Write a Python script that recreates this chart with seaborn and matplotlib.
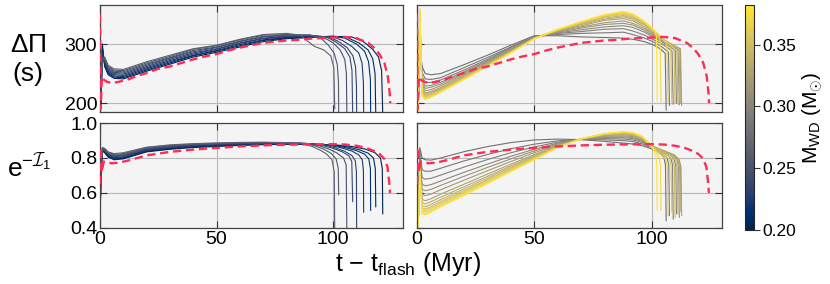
import pandas as pd
import seaborn as sns
import matplotlib.pyplot as plt
from matplotlib.colors import Normalize
from matplotlib.cm import ScalarMappable

# ----------------------
# DATA
# ----------------------
# left column: low-mass runs (navy -> grey), right column: higher-mass runs (grey -> yellow)
MASS_LEFT = [0.200, 0.208, 0.216, 0.224, 0.232, 0.240, 0.248, 0.256, 0.264]
MASS_RIGHT = [0.280, 0.288, 0.295, 0.303, 0.311, 0.318, 0.326,
              0.334, 0.342, 0.349, 0.357, 0.365, 0.372, 0.380]

T_LEFT = [0, 0.4, 1, 2, 3.5, 6, 10, 20, 30, 40, 50, 60, 70, 80]
T_RIGHT = [0, 0.5, 1.2, 2.2, 3.5, 6, 10, 20, 30, 40, 50, 60, 70, 80, 88]

# period spacing DeltaPi (s), left runs
DP_LEFT = [
    [330, 195, 300, 262, 248, 242, 241, 254, 266, 278, 286, 295, 304, 309],
    [335, 200, 295, 264, 250, 244, 243, 256, 268, 280, 288, 297, 306, 310],
    [340, 205, 290, 266, 252, 246, 245, 258, 270, 281, 289, 299, 307, 311],
    [345, 210, 285, 268, 254, 248, 247, 260, 272, 283, 291, 301, 309, 312],
    [350, 215, 280, 270, 256, 250, 249, 262, 274, 285, 292, 302, 310, 313],
    [352, 220, 278, 272, 258, 252, 251, 264, 276, 287, 294, 304, 312, 314],
    [355, 225, 276, 274, 260, 254, 253, 266, 277, 289, 295, 305, 313, 315],
    [358, 230, 274, 276, 262, 256, 255, 268, 279, 291, 297, 307, 315, 316],
    [360, 235, 272, 278, 264, 258, 257, 270, 281, 292, 298, 308, 316, 318],
]
DP_LEFT_TAIL = [
    [(90, 311), (100, 313), (108, 312), (113, 304), (117, 291), (119.5, 278), (120.8, 255), (121.3, 180)],
    [(90, 312), (100, 313), (106, 311), (111, 302), (115, 290), (117, 275), (118, 250), (118.3, 180)],
    [(90, 312), (100, 313), (105, 310), (110, 300), (113.5, 288), (115.2, 270), (116, 240), (116.1, 180)],
    [(90, 313), (100, 312), (104, 306), (108, 296), (111, 285), (112.4, 268), (113, 235), (113.1, 180)],
    [(90, 314), (98, 312), (102, 305), (106, 294), (108.5, 280), (109.6, 262), (110, 230), (110.1, 180)],
    [(90, 315), (97, 312), (101, 304), (105, 292), (107.2, 278), (108.1, 255), (108.4, 180)],
    [(90, 315), (96, 311), (100, 302), (103, 290), (105, 274), (105.7, 250), (105.9, 180)],
    [(90, 315), (95, 309), (98, 298), (100.5, 284), (101.8, 265), (102.3, 235), (102.4, 180)],
    [(86, 315), (89, 305), (92, 296), (96, 290), (99, 280), (100.3, 260), (100.7, 190)],
]

# mode trapping e^{-I1}, left runs
EI_LEFT = [
    [0.42, 0.70, 0.840, 0.830, 0.805, 0.790, 0.795, 0.835, 0.850, 0.860, 0.866, 0.872, 0.876, 0.878],
    [0.43, 0.71, 0.843, 0.833, 0.809, 0.794, 0.799, 0.838, 0.853, 0.863, 0.869, 0.874, 0.878, 0.879],
    [0.44, 0.72, 0.845, 0.836, 0.813, 0.798, 0.803, 0.842, 0.856, 0.866, 0.872, 0.877, 0.880, 0.880],
    [0.45, 0.73, 0.848, 0.839, 0.817, 0.802, 0.807, 0.845, 0.859, 0.869, 0.875, 0.879, 0.882, 0.881],
    [0.46, 0.74, 0.850, 0.842, 0.820, 0.807, 0.812, 0.849, 0.863, 0.872, 0.877, 0.882, 0.884, 0.882],
    [0.47, 0.75, 0.853, 0.845, 0.824, 0.811, 0.816, 0.852, 0.866, 0.875, 0.880, 0.884, 0.886, 0.884],
    [0.48, 0.76, 0.855, 0.848, 0.828, 0.815, 0.820, 0.855, 0.869, 0.877, 0.882, 0.886, 0.887, 0.885],
    [0.49, 0.77, 0.858, 0.852, 0.831, 0.820, 0.825, 0.859, 0.872, 0.880, 0.884, 0.888, 0.889, 0.887],
    [0.50, 0.78, 0.860, 0.855, 0.835, 0.825, 0.830, 0.862, 0.875, 0.882, 0.886, 0.889, 0.890, 0.888],
]
EI_LEFT_TAIL = [
    [(90, 0.878), (100, 0.876), (108, 0.866), (114, 0.850), (118, 0.830), (120.3, 0.800), (121.1, 0.740), (121.3, 0.48)],
    [(90, 0.879), (100, 0.875), (106, 0.864), (111, 0.848), (115, 0.828), (117.3, 0.800), (118.1, 0.740), (118.3, 0.52)],
    [(90, 0.880), (100, 0.873), (105, 0.860), (110, 0.842), (113.5, 0.822), (115.3, 0.795), (116, 0.740), (116.1, 0.50)],
    [(90, 0.881), (98, 0.874), (103, 0.860), (108, 0.840), (111, 0.818), (112.5, 0.790), (113, 0.730), (113.1, 0.49)],
    [(90, 0.882), (97, 0.872), (101, 0.858), (105, 0.838), (108, 0.815), (109.5, 0.785), (110, 0.720), (110.1, 0.38)],
    [(90, 0.882), (96, 0.870), (100, 0.855), (104, 0.835), (106.8, 0.812), (108, 0.780), (108.4, 0.55)],
    [(88, 0.884), (94, 0.870), (98, 0.852), (101.5, 0.830), (104.5, 0.800), (105.6, 0.760), (105.9, 0.38)],
    [(88, 0.884), (93, 0.866), (96, 0.850), (99, 0.828), (101.3, 0.795), (102.2, 0.740), (102.4, 0.59)],
    [(86, 0.886), (91, 0.866), (94, 0.848), (97, 0.825), (99.5, 0.790), (100.5, 0.720), (100.7, 0.38)],
]

# DeltaPi, right runs
DP_RIGHT = [
    [366, 186, 290, 262, 250, 248, 250, 265, 281, 298, 314, 314, 312, 311, 310],
    [366, 186, 305, 252, 241, 240, 243, 260, 277, 295, 313, 316, 318, 319, 320],
    [366, 186, 315, 245, 235, 235, 239, 256, 274, 294, 312, 318, 321, 325, 326],
    [366, 186, 323, 239, 229, 230, 235, 253, 272, 292, 312, 319, 324, 329, 331],
    [366, 186, 329, 234, 225, 227, 232, 251, 270, 291, 311, 320, 327, 333, 335],
    [366, 186, 336, 230, 221, 223, 229, 249, 269, 290, 311, 321, 329, 336, 339],
    [366, 186, 342, 225, 217, 220, 226, 247, 267, 288, 310, 322, 331, 340, 343],
    [366, 186, 346, 222, 215, 218, 224, 245, 266, 288, 310, 323, 333, 342, 346],
    [366, 186, 350, 220, 213, 216, 223, 244, 265, 287, 310, 323, 334, 344, 348],
    [366, 186, 352, 218, 211, 214, 222, 243, 264, 286, 310, 324, 335, 346, 350],
    [366, 186, 354, 216, 210, 213, 221, 242, 263, 286, 309, 324, 336, 347, 351],
    [366, 186, 357, 215, 208, 212, 220, 241, 263, 286, 309, 324, 337, 348, 353],
    [366, 186, 359, 213, 207, 211, 219, 240, 262, 285, 309, 325, 337, 349, 354],
    [366, 186, 360, 212, 206, 210, 218, 240, 262, 285, 309, 325, 338, 350, 355],
]
DP_RIGHT_TAIL = [
    [(92, 308), (97, 304), (101, 298), (104, 291), (105.8, 284), (106.2, 188)],
    [(92, 316), (97, 310), (101, 303), (104.5, 295), (107.2, 286), (107.6, 196)],
    [(92, 322), (97, 315), (101, 307), (105, 299), (108.7, 288), (109.2, 198)],
    [(92, 328), (97, 320), (101, 311), (106, 300), (110.1, 289), (110.6, 200)],
    [(92, 332), (97, 323), (101, 313), (106, 302), (111.3, 290), (111.8, 197)],
    [(92, 335), (97, 326), (101, 315), (107, 302), (112.1, 291), (112.6, 199)],
    [(92, 339), (97, 329), (101, 317), (107, 303), (112.3, 292), (112.8, 196)],
    [(92, 342), (97, 332), (101, 319), (106, 305), (111.7, 292), (112.2, 200)],
    [(92, 344), (97, 334), (101, 320), (105, 307), (110.7, 293), (111.2, 198)],
    [(92, 346), (97, 335), (101, 321), (105, 308), (109.5, 295), (110.0, 201)],
    [(92, 347), (97, 336), (101, 322), (105, 309), (108.1, 297), (108.6, 199)],
    [(92, 349), (97, 337), (100, 326), (104, 312), (106.5, 300), (107.0, 202)],
    [(92, 350), (96, 340), (100, 328), (102.5, 318), (103.6, 308), (104.0, 200)],
    [(92, 351), (96, 341), (99.5, 330), (101.5, 320), (102.1, 312), (102.4, 203)],
]

# e^{-I1}, right runs
EI_RIGHT = [
    [0.40, 0.40, 0.860, 0.800, 0.790, 0.788, 0.800, 0.836, 0.865, 0.888, 0.903, 0.908, 0.905, 0.895, 0.885],
    [0.40, 0.40, 0.830, 0.733, 0.724, 0.725, 0.741, 0.783, 0.820, 0.853, 0.879, 0.898, 0.906, 0.904, 0.899],
    [0.40, 0.40, 0.811, 0.688, 0.679, 0.684, 0.702, 0.748, 0.791, 0.830, 0.863, 0.891, 0.907, 0.911, 0.908],
    [0.40, 0.40, 0.794, 0.650, 0.641, 0.648, 0.668, 0.718, 0.765, 0.810, 0.850, 0.885, 0.907, 0.916, 0.916],
    [0.40, 0.40, 0.782, 0.621, 0.613, 0.621, 0.643, 0.695, 0.746, 0.795, 0.840, 0.881, 0.908, 0.920, 0.921],
    [0.40, 0.40, 0.769, 0.592, 0.585, 0.594, 0.618, 0.673, 0.727, 0.780, 0.830, 0.877, 0.908, 0.924, 0.927],
    [0.40, 0.40, 0.756, 0.563, 0.556, 0.567, 0.593, 0.650, 0.708, 0.765, 0.819, 0.872, 0.909, 0.928, 0.933],
    [0.40, 0.40, 0.748, 0.544, 0.537, 0.550, 0.576, 0.635, 0.695, 0.755, 0.813, 0.870, 0.909, 0.931, 0.937],
    [0.40, 0.40, 0.741, 0.528, 0.521, 0.535, 0.562, 0.623, 0.685, 0.747, 0.807, 0.867, 0.909, 0.933, 0.940],
    [0.40, 0.40, 0.735, 0.515, 0.509, 0.523, 0.551, 0.613, 0.676, 0.740, 0.802, 0.865, 0.909, 0.935, 0.943],
    [0.40, 0.40, 0.731, 0.506, 0.499, 0.514, 0.542, 0.605, 0.670, 0.735, 0.799, 0.864, 0.910, 0.936, 0.945],
    [0.40, 0.40, 0.727, 0.496, 0.490, 0.505, 0.534, 0.598, 0.664, 0.730, 0.796, 0.862, 0.910, 0.938, 0.947],
    [0.40, 0.40, 0.723, 0.486, 0.480, 0.496, 0.526, 0.590, 0.657, 0.725, 0.792, 0.861, 0.910, 0.939, 0.949],
    [0.40, 0.40, 0.720, 0.480, 0.474, 0.490, 0.520, 0.585, 0.653, 0.722, 0.790, 0.860, 0.910, 0.940, 0.950],
]
EI_RIGHT_TAIL = [
    [(92, 0.880), (96, 0.870), (100, 0.852), (103, 0.835), (105.2, 0.805), (105.9, 0.76), (106.2, 0.44)],
    [(92, 0.894), (96, 0.880), (100, 0.858), (104.6, 0.828), (106.6, 0.800), (107.3, 0.76), (107.6, 0.47)],
    [(92, 0.903), (96, 0.888), (100, 0.862), (106.2, 0.825), (108.2, 0.798), (108.9, 0.76), (109.2, 0.45)],
    [(92, 0.911), (96, 0.895), (100, 0.865), (107.6, 0.822), (109.6, 0.795), (110.3, 0.755), (110.6, 0.48)],
    [(92, 0.916), (96, 0.899), (100, 0.866), (108.8, 0.820), (110.8, 0.792), (111.5, 0.75), (111.8, 0.46)],
    [(92, 0.922), (96, 0.904), (100, 0.868), (109.6, 0.818), (111.6, 0.790), (112.3, 0.75), (112.6, 0.49)],
    [(92, 0.928), (96, 0.909), (100, 0.870), (109.8, 0.816), (111.8, 0.788), (112.5, 0.748), (112.8, 0.47)],
    [(92, 0.932), (96, 0.912), (100, 0.870), (109.2, 0.815), (111.2, 0.788), (111.9, 0.748), (112.2, 0.50)],
    [(92, 0.935), (96, 0.915), (100, 0.869), (108.2, 0.815), (110.2, 0.788), (110.9, 0.748), (111.2, 0.48)],
    [(92, 0.938), (96, 0.917), (100, 0.866), (107, 0.815), (109, 0.790), (109.7, 0.75), (110.0, 0.46)],
    [(92, 0.940), (96, 0.919), (100, 0.862), (105.6, 0.815), (107.6, 0.790), (108.3, 0.75), (108.6, 0.49)],
    [(92, 0.942), (96, 0.921), (100, 0.857), (104, 0.818), (106, 0.790), (106.7, 0.75), (107.0, 0.47)],
    [(92, 0.944), (96, 0.924), (99, 0.885), (101.5, 0.845), (103.2, 0.800), (103.8, 0.76), (104.0, 0.50)],
    [(92, 0.945), (95, 0.930), (98, 0.900), (100.5, 0.860), (101.8, 0.810), (102.2, 0.77), (102.4, 0.50)],
]

# reference model (red dashed), same in both columns
REF_T_DP = [0, 0.3, 0.8, 1.5, 3, 5, 8, 12, 16, 20, 25, 30, 35, 40, 45, 50, 55, 60, 65, 70,
            75, 80, 85, 90, 95, 100, 105, 110, 115, 118, 120, 122, 123.5, 124.3, 124.5]
REF_DP = [350, 190, 245, 240, 236, 234, 236, 240, 246, 251, 258, 262, 268, 274, 279, 283, 289, 294, 298, 302,
          304, 306, 307, 309, 310, 311, 312, 310, 302, 292, 282, 268, 245, 215, 200]
REF_T_EI = [0, 0.3, 0.8, 1.5, 3, 5, 8, 12, 20, 30, 40, 50, 60, 70, 80, 90, 100,
            105, 110, 114, 118, 120, 122, 123.3, 124, 124.4]
REF_EI = [0.65, 0.86, 0.72, 0.78, 0.775, 0.770, 0.773, 0.785, 0.815, 0.835, 0.848, 0.858, 0.866, 0.872, 0.876,
          0.878, 0.879, 0.877, 0.870, 0.858, 0.838, 0.822, 0.795, 0.750, 0.670, 0.600]

MASS_RANGE = (0.20, 0.382)
CBAR_TICKS = [0.20, 0.25, 0.30, 0.35]

# ----------------------
# STYLE
# ----------------------
sns.set_theme(style='ticks')
plt.rcParams['font.family'] = ['Liberation Sans', 'DejaVu Sans']
plt.rcParams['mathtext.fontset'] = 'custom'
plt.rcParams['mathtext.rm'] = 'Liberation Sans'
plt.rcParams['mathtext.it'] = 'Liberation Sans:italic'
plt.rcParams['mathtext.cal'] = 'cmsy10'
plt.rcParams['text.color'] = 'black'
plt.rcParams['axes.labelcolor'] = 'black'
RED = '#ff2d55'
NORM = Normalize(*MASS_RANGE)


def to_frame(masses, body_t, body, tails):
    parts = []
    for k, (m, vals, tail) in enumerate(zip(masses, body, tails)):
        ts = list(body_t) + [p[0] for p in tail]
        vs = list(vals) + [p[1] for p in tail]
        parts.append(pd.DataFrame({'t': ts, 'y': vs, 'mass': m, 'run': k}))
    return pd.concat(parts, ignore_index=True)


def draw_panel(ax, df, ref_t, ref_y):
    sns.lineplot(data=df, x='t', y='y', hue='mass', units='run', estimator=None,
                 palette='cividis', hue_norm=NORM, lw=0.8, legend=False, sort=False, ax=ax)
    sns.lineplot(x=ref_t, y=ref_y, color=RED, lw=1.7, linestyle=(0, (3.5, 2)),
                 sort=False, ax=ax, zorder=5)
    ax.set_facecolor('#f4f4f4')
    ax.grid(True, color='#b8b8b8', lw=0.8)
    ax.set_axisbelow(True)
    ax.set_xlim(0, 130)
    ax.set_xticks([0, 50, 100])
    ax.set_xlabel('')
    ax.set_ylabel('')
    ax.tick_params(direction='in', top=True, right=True, length=5, width=0.8,
                   color='#333333', labelcolor='black', labelsize=14, pad=2)
    for s in ax.spines.values():
        s.set_color('#444444')
        s.set_linewidth(0.9)


fig = plt.figure(figsize=(8.3, 2.84), dpi=100)
ax_tl = fig.add_axes([0.1205, 0.6056, 0.3651, 0.3768])
ax_tr = fig.add_axes([0.5024, 0.6056, 0.3675, 0.3768])
ax_bl = fig.add_axes([0.1205, 0.1972, 0.3651, 0.3697])
ax_br = fig.add_axes([0.5024, 0.1972, 0.3675, 0.3697])
cax = fig.add_axes([0.8976, 0.190, 0.0108, 0.7923])

draw_panel(ax_tl, to_frame(MASS_LEFT, T_LEFT, DP_LEFT, DP_LEFT_TAIL), REF_T_DP, REF_DP)
draw_panel(ax_tr, to_frame(MASS_RIGHT, T_RIGHT, DP_RIGHT, DP_RIGHT_TAIL), REF_T_DP, REF_DP)
draw_panel(ax_bl, to_frame(MASS_LEFT, T_LEFT, EI_LEFT, EI_LEFT_TAIL), REF_T_EI, REF_EI)
draw_panel(ax_br, to_frame(MASS_RIGHT, T_RIGHT, EI_RIGHT, EI_RIGHT_TAIL), REF_T_EI, REF_EI)

for ax in (ax_tl, ax_tr):
    ax.set_ylim(185, 366)
    ax.set_yticks([200, 300])
    ax.tick_params(labelbottom=False)
for ax in (ax_bl, ax_br):
    ax.set_ylim(0.4, 1.0)
    ax.set_yticks([0.4, 0.6, 0.8, 1.0])
    ax.set_yticklabels(['0.4', '0.6', '0.8', '1.0'])
for ax in (ax_tr, ax_br):
    ax.tick_params(labelleft=False)

cb = fig.colorbar(ScalarMappable(norm=NORM, cmap='cividis'), cax=cax)
cb.set_ticks(CBAR_TICKS)
cb.set_ticklabels(['%.2f' % v for v in CBAR_TICKS])
cb.ax.tick_params(labelsize=12.5, length=4, width=0.8, pad=2, color='#333333', labelcolor='black')
cb.outline.set_linewidth(0.8)
cb.set_label(r'M$_{\mathrm{WD}}$ (M$_{\odot}$)', fontsize=15, labelpad=3)

fig.text(0.034, 0.79, '$\\Delta\\Pi$\n(s)', fontsize=19, ha='center', va='center', linespacing=1.3)
fig.text(0.035, 0.41, r'$\mathrm{e}^{-\mathcal{I}_1}$', fontsize=19, ha='center', va='center')
fig.text(0.492, 0.0458, 't \u2212 t$_{\\mathrm{flash}}$ (Myr)', fontsize=18, ha='center', va='baseline')

fig.savefig('out.png', dpi=100)
